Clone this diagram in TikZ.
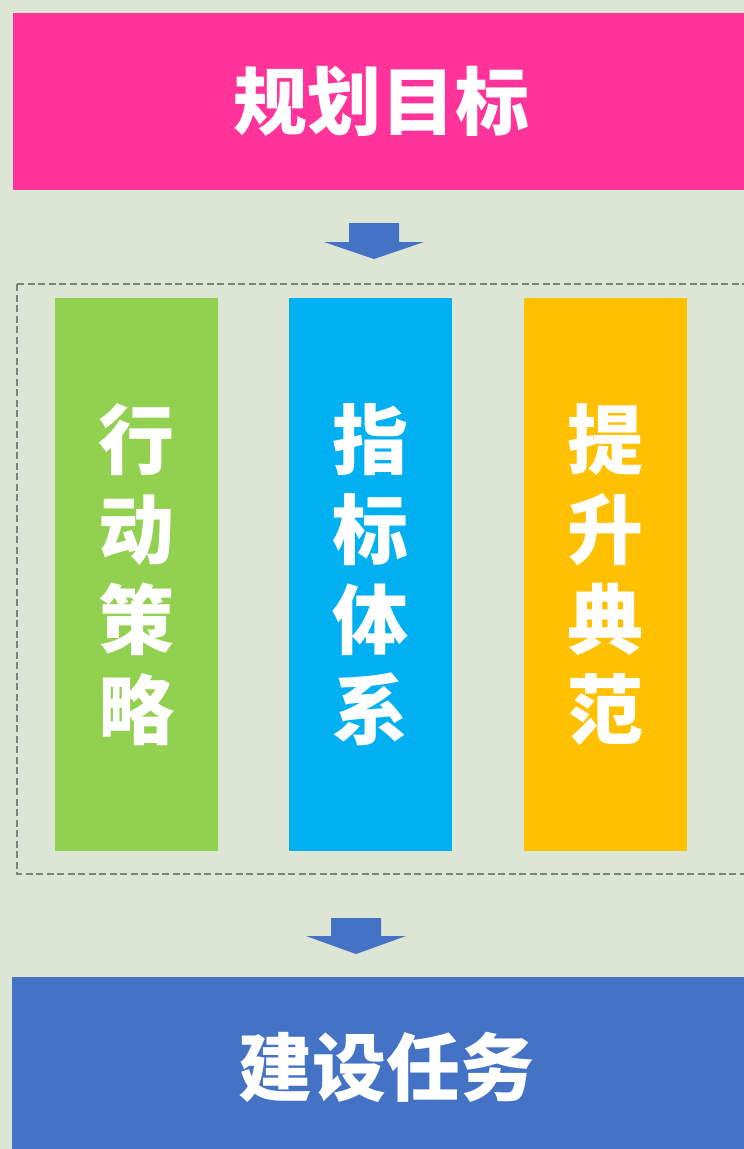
\documentclass[tikz,border=0pt]{standalone}
\usepackage{fontspec}
\newfontfamily\cjk{Noto Sans CJK SC}
\definecolor{bgcol}{RGB}{221,229,212}
\definecolor{goalpink}{RGB}{255,51,153}
\definecolor{taskblue}{RGB}{68,114,196}
\definecolor{colgreen}{RGB}{146,208,80}
\definecolor{colblue}{RGB}{0,176,240}
\definecolor{colorange}{RGB}{255,192,0}
\definecolor{dashgray}{RGB}{128,128,128}
\begin{document}
\begin{tikzpicture}[x=1pt, y=-1pt]
\tikzset{banner/.style={shape=rectangle, inner sep=0pt, minimum height=177pt, text=white, font=\cjk\bfseries\fontsize{74}{74}\selectfont}}
\tikzset{pillar/.style={shape=rectangle, inner sep=0pt, minimum width=163pt, minimum height=553pt, text=white, align=center, font=\cjk\bfseries\fontsize{76}{90}\selectfont}}
\tikzset{blockarrow/.style={fill=taskblue, draw=none}}
% page and background
\clip (0,0) rectangle (744,1149);
\fill[bgcol] (0,0) rectangle (744,1149);
% goal and task banners
\node (goal) [banner, fill=goalpink, minimum width=737pt] at (381.5,101.5) {规划目标};
\node (task) [banner, fill=taskblue, minimum width=748pt, minimum height=180pt] at (386,1067) {建设任务};
% group of pillars
\draw[dashgray, line width=1.8pt, dash pattern=on 7pt off 3.5pt] (17,284) rectangle (780,874);
\node (act) [pillar, fill=colgreen] at (136.5,574.5) {行\\动\\策\\略};
\node (ind) [pillar, fill=colblue] at (370,574.5) {指\\标\\体\\系};
\node (ups) [pillar, fill=colorange] at (605,574.5) {提\\升\\典\\范};
% arrows
\fill[blockarrow] (349,223) -- (399,223) -- (399,242) -- (424,242) -- (374,259) -- (324,242) -- (349,242) -- cycle;
\fill[blockarrow] (331,918) -- (381,918) -- (381,936) -- (406,936) -- (356,954) -- (306,936) -- (331,936) -- cycle;
\end{tikzpicture}
\end{document}
